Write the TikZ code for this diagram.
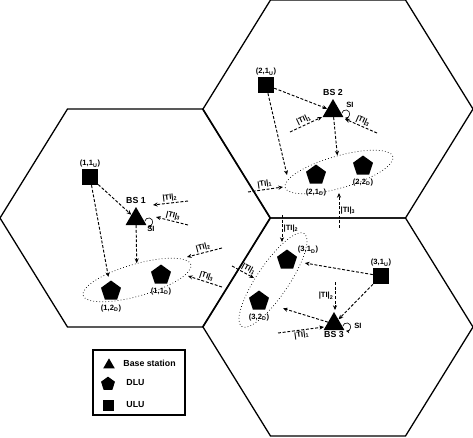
\documentclass[tikz,border=0pt]{standalone}
\usepackage{fontspec}
\setsansfont{Liberation Sans}
\tikzset{every picture/.style={/utils/exec={\sffamily\bfseries}}}
\usetikzlibrary{calc}
\usetikzlibrary{positioning}
\usetikzlibrary{shapes.geometric,arrows.meta}

\newcommand{\tilab}[1]{|TI|\textsubscript{#1}}
\newcommand{\ulab}[2]{(#1,#2\textsubscript{U})}
\newcommand{\dlab}[2]{(#1,#2\textsubscript{D})}

\tikzset{
  cell/.style={line width=1.1pt},
  bs/.style={regular polygon, regular polygon sides=3, fill, inner sep=0pt, minimum size=0.72cm},
  dlu/.style={regular polygon, regular polygon sides=5, fill, inner sep=0pt, minimum size=0.63cm},
  ulu/.style={rectangle, fill, inner sep=0pt, minimum size=0.48cm},
  grp/.style={ellipse, draw, dotted, line width=0.6pt, inner sep=0pt, minimum width=3.36cm, minimum height=0.96cm},
  sig/.style={line width=0.8pt, dash pattern=on 2.5pt off 1.5pt, -{Stealth[length=4pt,width=3.5pt]}},
  si/.style={line width=0.5pt, -{Stealth[length=3pt,width=3pt]}},
  lbl/.style={font=\fontsize{6.5}{7}\selectfont, inner sep=1pt},
  bslbl/.style={font=\fontsize{7.5}{8}\selectfont, inner sep=1pt},
}

\begin{document}
\begin{tikzpicture}[x=0.03cm, y=-0.03cm]
  \useasboundingbox (0,0) rectangle (473,437);

  % the three cells
  \foreach \c in {{135,218},{338,109},{338,327}}
    \draw [cell] (\c) ++(-135,0) -- ++(67.5,-109) -- ++(135,0) -- ++(67.5,109)
      -- ++(-67.5,109) -- ++(-135,0) -- cycle;

  % cell 1
  \node [ulu] (u11) at (90,177) {};
  \node [lbl, above=0pt of u11] (u11l) {\ulab{1}{1}};
  \node [bs] (bs1) at (136,219) {};
  \node [bslbl, above=1pt of bs1] (bs1l) {BS 1};
  \node [dlu] (d11) at (161,275) {};
  \node [lbl, below=2pt of d11] (d11l) {\dlab{1}{1}};
  \node [dlu] (d12) at (111,291) {};
  \node [lbl, below=3pt of d12] (d12l) {\dlab{1}{2}};
  \node [grp, rotate=16] (grp1) at (137,280) {};
  \node [lbl] (si1) at (151,229) {SI};

  % cell 2
  \node [ulu] (u21) at (266,85) {};
  \node [lbl, above=0pt of u21] (u21l) {\ulab{2}{1}};
  \node [bs] (bs2) at (333,111) {};
  \node [bslbl, above=1pt of bs2] (bs2l) {BS 2};
  \node [dlu] (d21) at (316,175) {};
  \node [lbl, below=3pt of d21] (d21l) {\dlab{2}{1}};
  \node [dlu] (d22) at (363,166) {};
  \node [lbl, below=2pt of d22] (d22l) {\dlab{2}{2}};
  \node [grp, rotate=16] (grp2) at (339,172) {};
  \node [lbl] (si2) at (350,105) {SI};

  % cell 3
  \node [ulu] (u31) at (381,276) {};
  \node [lbl, above=0pt of u31] (u31l) {\ulab{3}{1}};
  \node [bs] (bs3) at (334,324) {};
  \node [bslbl, below=0pt of bs3] (bs3l) {BS 3};
  \node [dlu] (d31) at (287,260) {};
  \node [lbl] (d31l) at ($(d31)+(21,-10)$) {\dlab{3}{1}};
  \node [dlu] (d32) at (259,301) {};
  \node [lbl, below=2pt of d32] (d32l) {\dlab{3}{2}};
  \node [grp, rotate=56] (grp3) at (273,280) {};
  \node [lbl] (si3) at (358,326) {SI};

  % useful signals
  \coordinate (g2e) at (287,175);
  \draw [sig] (u11) -- (bs1);
  \draw [sig, shorten >=4pt] (u11) -- (d12);
  \draw [sig] (bs1) -- (grp1);
  \draw [sig] (u21) -- (bs2);
  \draw [sig] (u21) -- (g2e);
  \draw [sig] (bs2) -- (grp2);
  \draw [sig, shorten >=8pt] (u31) -- (d31);
  \draw [sig] (u31) -- (bs3);
  \draw [sig, shorten >=14pt] (bs3) -- (d32);

  % self interference
  \foreach \b in {bs1,bs2,bs3}
    \draw [si] ($(\b.corner 3)+(-2,-4)$) arc [start angle=170, end angle=-100, radius=0.12cm];

  % inter-cell interference
  \foreach \n/\x/\y in {t1a/188/201, t1b/153/205, t1c/188/225, t1d/156/217,
      g1a/222/248, g1b/187/257, g1c/222/287, g1d/188/276,
      t2a/290/132, t2b/322/117, t2c/377/133, t2d/345/119,
      g2a/248/192, g2b/283/187, g2c/339/228, g2d/339/193,
      t3a/278/333, t3b/324/327, t3c/335/282, t3d/335/310,
      g3a/232/266, g3b/254/278, g3c/282/215, g3d/282/242}
    \coordinate (\n) at (\x,\y);

  \foreach \s/\e/\k in {t1a/t1b/2, t1c/t1d/3, g1a/g1b/2, g1c/g1d/3,
      t2a/t2b/1, t2c/t2d/3, g2a/g2b/1}
    \draw [sig] (\s) -- node [lbl, sloped, above] {\tilab{\k}} (\e);
  \draw [sig] (g2c) -- node [lbl, right] {\tilab{3}} (g2d);
  \draw [sig] (t3a) -- node [lbl, sloped, below] {\tilab{1}} (t3b);
  \draw [sig] (t3c) -- node [lbl, left] {\tilab{2}} (t3d);
  \draw [sig] (g3a) -- node [lbl, sloped, above, pos=0.65] {\tilab{1}} (g3b);
  \draw [sig] (g3c) -- node [lbl, right] {\tilab{2}} (g3d);

  % legend
  \node [draw, line width=0.9pt, minimum width=2.76cm, minimum height=1.95cm] (legend) at (139,382.5) {};
  \node [bs, minimum size=0.4cm] (lbs) at (109,365) {};
  \node [dlu, minimum size=0.44cm] (ldlu) at (108,384) {};
  \node [ulu, minimum size=0.33cm] (lulu) at (108,405) {};
  \node [bslbl, anchor=west] (lbst) at (122,363) {Base station};
  \node [bslbl, anchor=west] (ldlut) at (125,383) {DLU};
  \node [bslbl, anchor=west] (lulut) at (125,405) {ULU};
\end{tikzpicture}
\end{document}
